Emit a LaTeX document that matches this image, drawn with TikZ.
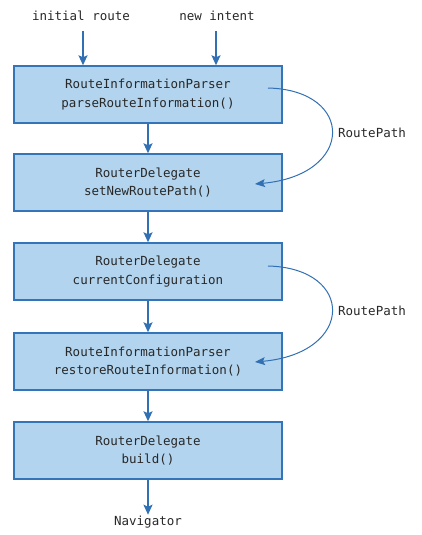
\documentclass[tikz,border=0pt]{standalone}
\usepackage{fontspec}
\setmonofont{DejaVu Sans Mono}
\usetikzlibrary{arrows.meta}
\definecolor{boxfill}{RGB}{178,212,238}
\definecolor{boxline}{RGB}{52,117,186}
\definecolor{arrowc}{RGB}{50,112,180}
\definecolor{txt}{RGB}{40,40,40}
\begin{document}
\begin{tikzpicture}[x=1pt,y=-1pt,
  stepbox/.style={draw=boxline,fill=boxfill,line width=1.4pt,minimum width=268pt,minimum height=57pt,
    align=center,font=\ttfamily\fontsize{12.5}{18.5}\selectfont,text=txt,inner sep=0pt},
  lbl/.style={font=\ttfamily\fontsize{12.5}{14}\selectfont,text=txt,inner sep=1pt},
  flow/.style={draw=arrowc,line width=1.6pt,-{Stealth[length=10pt,width=9pt,inset=2pt]}},
  curv/.style={draw=arrowc,line width=1pt,-{Stealth[length=10pt,width=8pt,inset=2pt]}}]
\useasboundingbox (0,0) rectangle (422,535);
\node[lbl] (init) at (81,16) {initial route};
\node[lbl] (intent) at (217,16) {new intent};
\node[stepbox] (b1) at (148,94.5) {RouteInformationParser\\parseRouteInformation()};
\node[stepbox] (b2) at (148,182.5) {RouterDelegate\\setNewRoutePath()};
\node[stepbox] (b3) at (148,271.5) {RouterDelegate\\currentConfiguration};
\node[stepbox] (b4) at (148,361.5) {RouteInformationParser\\restoreRouteInformation()};
\node[stepbox] (b5) at (148,450.5) {RouterDelegate\\build()};
\node[lbl] (nav) at (148,522) {Navigator};
\node[lbl] (rp1) at (372,133) {RoutePath};
\node[lbl] (rp2) at (372,311) {RoutePath};
\coordinate (ia) at (83,31);
\coordinate (na) at (216,31);
\draw[flow] (ia) -- (ia |- b1.north);
\draw[flow] (na) -- (na |- b1.north);
\draw[flow] (b1.south) -- (b2.north);
\draw[flow] (b2.south) -- (b3.north);
\draw[flow] (b3.south) -- (b4.north);
\draw[flow] (b4.south) -- (b5.north);
\draw[flow] (b5.south) -- (b5.south |- nav.north);
\coordinate (s1) at (268,88);
\coordinate (e1) at (255,184);
\coordinate (s2) at (268,266);
\coordinate (e2) at (255,362);
\draw[curv] (s1) .. controls (355,90) and (355,175) .. (e1);
\draw[curv] (s2) .. controls (355,268) and (355,353) .. (e2);
\end{tikzpicture}
\end{document}
